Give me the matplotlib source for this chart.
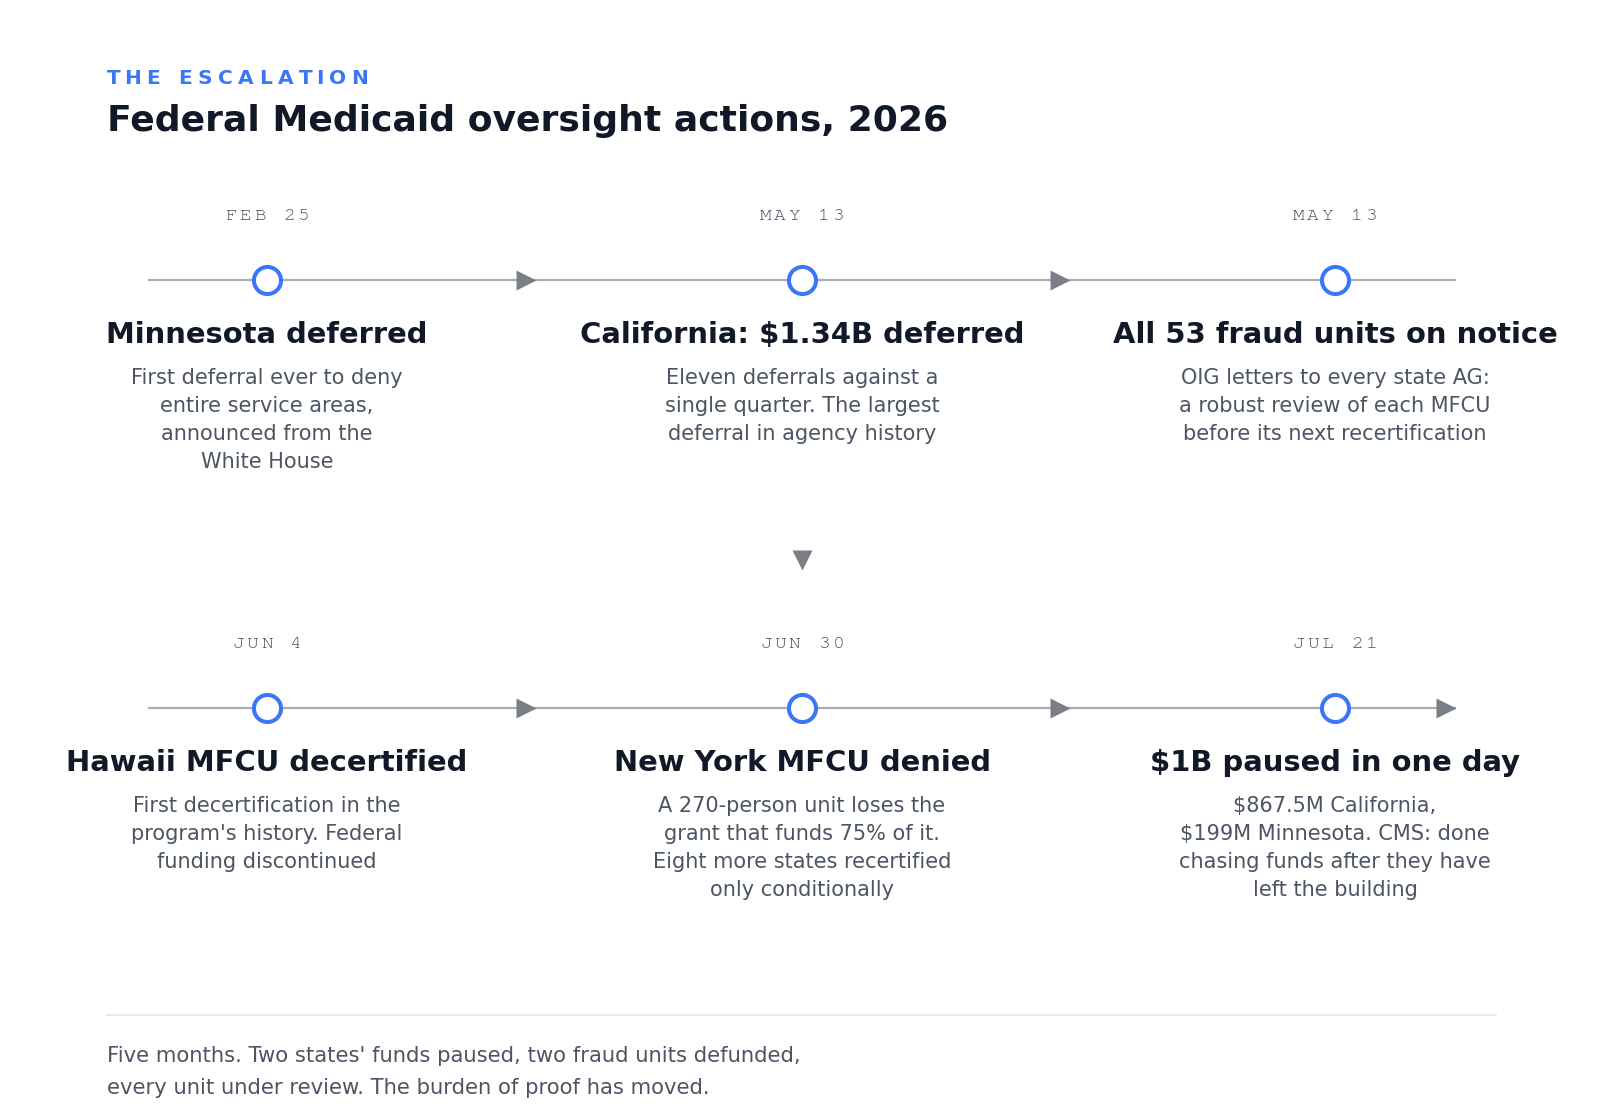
import matplotlib
matplotlib.use("Agg")
import matplotlib.pyplot as plt
from matplotlib import font_manager

# event data, in reading order (row 1 left->right, then row 2)
dates = ["FEB 25", "MAY 13", "MAY 13", "JUN 4", "JUN 30", "JUL 21"]
titles = ["Minnesota deferred", "California: $1.34B deferred",
          "All 53 fraud units on notice", "Hawaii MFCU decertified",
          "New York MFCU denied", "$1B paused in one day"]
descs = [
    ["First deferral ever to deny", "entire service areas,",
     "announced from the", "White House"],
    ["Eleven deferrals against a", "single quarter. The largest",
     "deferral in agency history"],
    ["OIG letters to every state AG:", "a robust review of each MFCU",
     "before its next recertification"],
    ["First decertification in the", "program's history. Federal",
     "funding discontinued"],
    ["A 270-person unit loses the", "grant that funds 75% of it.",
     "Eight more states recertified", "only conditionally"],
    ["$867.5M California,", "$199M Minnesota. CMS: done",
     "chasing funds after they have", "left the building"],
]
kicker = "THE ESCALATION"
title = "Federal Medicaid oversight actions, 2026"
footer = ["Five months. Two states' funds paused, two fraud units defunded,",
          "every unit under review. The burden of proof has moved."]

BLUE = "#3b76f6"
DARK = "#111827"
GREY_TXT = "#4b5563"
DATE_C = "#4d5361"
LINE_C = "#a9acb3"
ARROW_C = "#7a7e87"

# serif monospace for the dates if one is around
installed = {f.name for f in font_manager.fontManager.ttflist}
mono = [f for f in ["Courier New", "Nimbus Mono PS", "FreeMono", "Courier",
                    "Liberation Mono", "DejaVu Sans Mono"] if f in installed]

fig = plt.figure(figsize=(16, 11.2), dpi=100)
ax = fig.add_axes([0, 0, 1, 1])
ax.set_xlim(0, 1600)
ax.set_ylim(1120, 0)
ax.axis("off")
renderer = fig.canvas.get_renderer()


def text_w(s, **kw):
    t = ax.text(0, 0, s, **kw)
    w = t.get_window_extent(renderer).width
    t.remove()
    return w


def spaced_text(x, y, s, spacing, ha="left", **kw):
    # letter-spaced text, drawn one glyph at a time
    base = text_w("aa", **kw)
    widths = [text_w("a" + c + "a", **kw) - base for c in s]
    total = sum(widths) + spacing * (len(s) - 1)
    cx = x - total / 2 if ha == "center" else x
    for c, w in zip(s, widths):
        ax.text(cx, y, c, ha="left", va="center", **kw)
        cx += w + spacing


# header
spaced_text(107, 79, kicker, 5.6, fontsize=14.5, fontweight="bold", color=BLUE)
ax.text(107, 121, title, fontsize=26, fontweight="bold", color=DARK,
        ha="left", va="center")

col_x = [267, 802, 1335]
row_y = [280, 708]
line_x0, line_x1 = 148, 1456
arrow_x = [526, 1060]

for r, ly in enumerate(row_y):
    ax.plot([line_x0, line_x1], [ly, ly], color=LINE_C, lw=1.6,
            solid_capstyle="butt", zorder=1)
    ax_arrows = arrow_x + ([1446] if r == 1 else [])
    ax.plot(ax_arrows, [ly] * len(ax_arrows), ls="none", marker=">",
            ms=15, color=ARROW_C, mec="none", zorder=2)
    ax.plot(col_x, [ly] * 3, ls="none", marker="o", ms=19.5, mfc="white",
            mec=BLUE, mew=2.9, zorder=3)

# connector down to the second row
ax.plot([802], [560], marker="v", ms=15, color=ARROW_C, mec="none")

for i in range(len(dates)):
    r, c = divmod(i, 3)
    x = col_x[c]
    ly = row_y[r]
    spaced_text(x, ly - 64, dates[i], 2.8, ha="center", family=mono,
                fontsize=14, color=DATE_C)
    ax.text(x, ly + 55, titles[i], ha="center", va="center", fontsize=20.9,
            fontweight="bold", color=DARK)
    for k, line in enumerate(descs[i]):
        ax.text(x, ly + 98 + 28 * k, line, ha="center", va="center",
                fontsize=15, color=GREY_TXT)

# footer
ax.plot([107, 1496], [1015, 1015], color="#e5e7eb", lw=1.3)
for k, line in enumerate(footer):
    ax.text(107, 1056 + 32 * k, line, ha="left", va="center", fontsize=15.2,
            color=GREY_TXT)

fig.savefig("out.png", dpi=100, facecolor="white")
